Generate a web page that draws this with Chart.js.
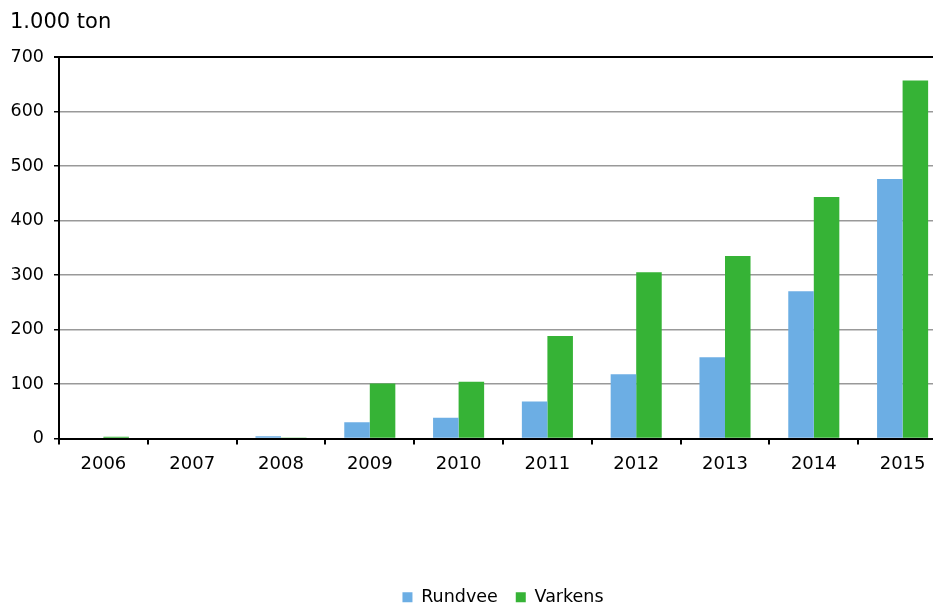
<!DOCTYPE html>
<html lang="nl">
  <head>
    <meta charset="UTF-8" />
    <title>Rundvee en varkens</title>
    <script src="https://cdn.jsdelivr.net/npm/chart.js"></script>
    <style>
      html, body { margin: 0; padding: 0; background: #fff; overflow: hidden; }
      /* het plotvlak loopt in het origineel rechts en onder iets buiten beeld */
      #wrap { width: 947px; height: 616px; }
    </style>
  </head>
  <body>
    <div id="wrap"><canvas id="myChart"></canvas></div>
  </body>
  <script>
    // data (1.000 ton)
    const jaren = ["2006", "2007", "2008", "2009", "2010", "2011", "2012", "2013", "2014", "2015"];
    const rundvee = [0, 0, 4, 30, 38, 68, 118, 149, 270, 476];
    const varkens = [3, 0, 2, 101, 104, 188, 305, 335, 443, 657];
    const yTicks = [0, 100, 200, 300, 400, 500, 600, 700];
    const eenheid = "1.000 ton";

    const fnt = "'DejaVu Sans', Verdana, sans-serif";
    Chart.defaults.font.family = fnt;
    Chart.defaults.color = "#000";

    // eenheid linksboven
    const eenheidPlugin = {
      id: "eenheid",
      afterDraw(chart) {
        const c = chart.ctx;
        c.save();
        c.font = "21px " + fnt;
        c.fillStyle = "#000";
        c.textBaseline = "middle";
        c.fillText(eenheid, 10, 23);
        c.restore();
      },
    };

    const ctx = document.querySelector("#myChart");

    const chart = new Chart(ctx, {
      type: "bar",
      data: {
        labels: jaren,
        datasets: [
          { label: "Rundvee", data: rundvee, backgroundColor: "#6caee4" },
          { label: "Varkens", data: varkens, backgroundColor: "#36b336" },
        ],
      },
      plugins: [eenheidPlugin],
      options: {
        responsive: true,
        maintainAspectRatio: false,
        animation: false,
        categoryPercentage: 0.575,
        barPercentage: 1,
        layout: { padding: { left: 0, right: 0, top: 57, bottom: 0 } },
        plugins: {
          legend: {
            position: "bottom",
            fullSize: false,
            labels: {
              boxWidth: 10,
              boxHeight: 10,
              padding: 18,
              font: { size: 17.5 },
            },
          },
          tooltip: { enabled: false },
        },
        scales: {
          x: {
            grid: {
              offset: true,
              drawOnChartArea: false,
              drawTicks: true,
              tickLength: 6,
              color: "#000",
              lineWidth: 2,
            },
            border: { color: "#000", width: 2 },
            ticks: { font: { size: 18 }, padding: 9, maxRotation: 0 },
            afterFit: (s) => { s.height = 132; },
          },
          y: {
            min: 0,
            max: 700,
            afterBuildTicks: (s) => { s.ticks = yTicks.map((v) => ({ value: v })); },
            grid: {
              color: (c) => (c.tick && c.tick.value === 700 ? "#000" : "#999"),
              lineWidth: (c) => (c.tick && c.tick.value === 700 ? 2 : 1.5),
              tickLength: 5,
              tickColor: "#000",
            },
            border: { color: "#000", width: 2 },
            ticks: { font: { size: 17.5 }, padding: 10 },
            afterFit: (s) => { s.width = 59; },
          },
        },
      },
    });
  </script>
</html>
